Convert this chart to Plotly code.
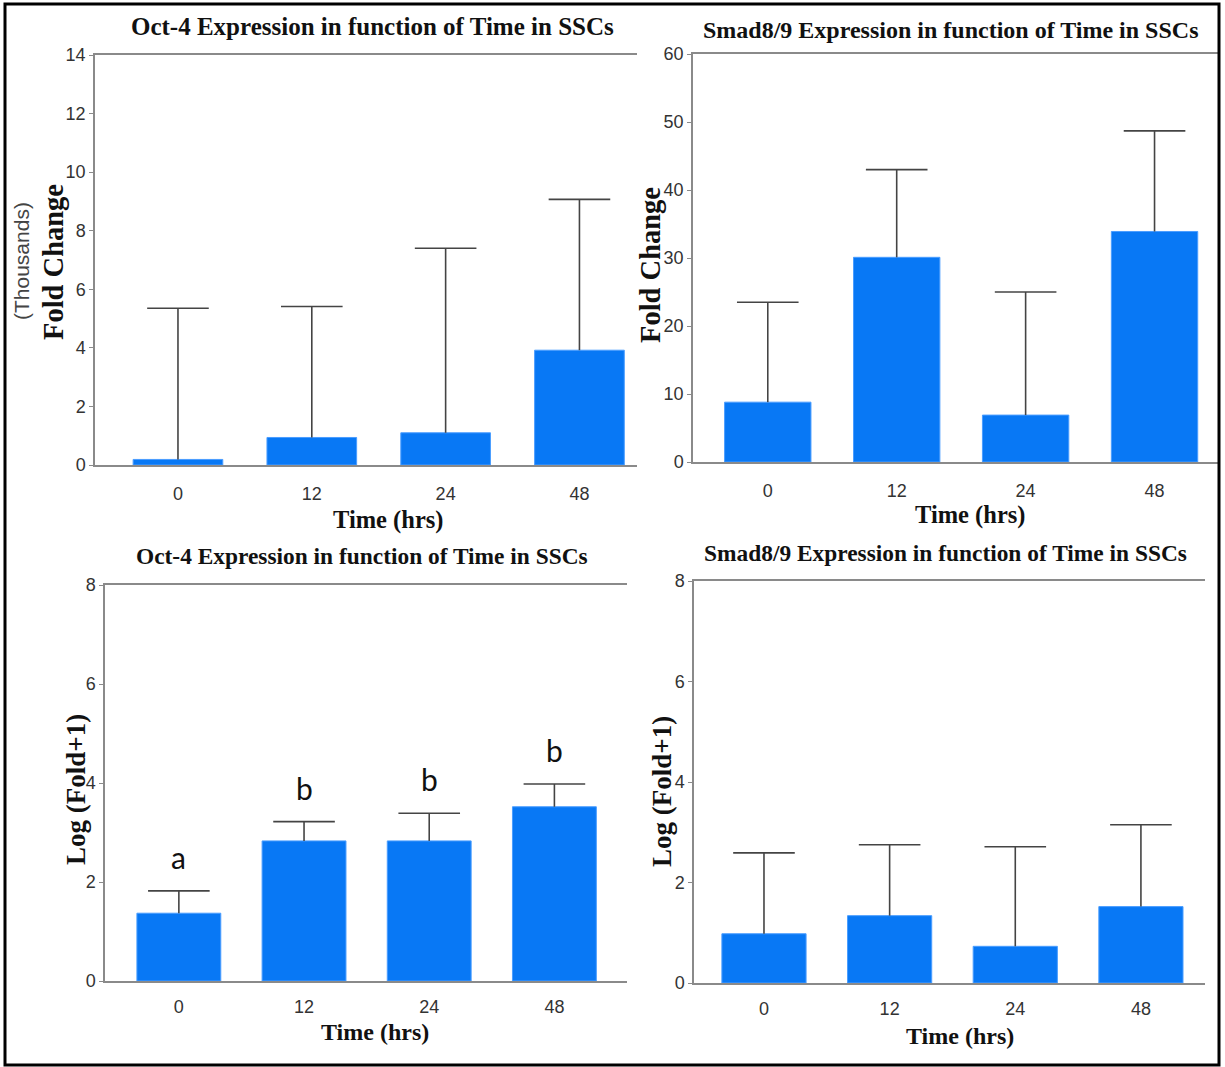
import plotly.graph_objects as go

# Time points (hours)
times = ["0", "12", "24", "48"]

# Oct-4 fold change (thousands) with upper SD
oct4_fold = [0.19, 0.94, 1.10, 3.92]
oct4_fold_err = [5.16, 4.47, 6.30, 5.15]

# Smad8/9 fold change with upper SD
smad_fold = [8.8, 30.1, 6.9, 33.9]
smad_fold_err = [14.7, 12.9, 18.1, 14.8]

# Oct-4 log(fold+1) with upper SD and significance letters
oct4_log = [1.37, 2.83, 2.83, 3.52]
oct4_log_err = [0.45, 0.39, 0.56, 0.46]
oct4_letters = ["a", "b", "b", "b"]

# Smad8/9 log(fold+1) with upper SD
smad_log = [0.98, 1.34, 0.73, 1.52]
smad_log_err = [1.61, 1.41, 1.98, 1.63]

W, H = 1225, 1067
BAR = "#0878F5"
ERR = "#444444"


def serif(size):
    return dict(family="Liberation Serif", size=size, color="#111111")


TICK_FONT = dict(family="Liberation Sans", size=18, color="#333333")


def px(x):
    return x / W


def py(y):
    return 1 - y / H


panels = [
    # values, errors, x-pixel span, y-pixel span, x range, y range, dtick
    dict(v=oct4_fold, e=oct4_fold_err, xs=(95, 637), ys=(55, 465),
         xr=[-0.62, 3.43], yr=[0, 14], dt=2, so=12),
    dict(v=smad_fold, e=smad_fold_err, xs=(693, 1219), ys=(54, 462),
         xr=[-0.58, 3.50], yr=[0, 60], dt=10, so=12),
    dict(v=oct4_log, e=oct4_log_err, xs=(105, 627), ys=(585, 981),
         xr=[-0.59, 3.58], yr=[0, 8], dt=2, so=9),
    dict(v=smad_log, e=smad_log_err, xs=(694, 1205), ys=(581, 983),
         xr=[-0.557, 3.51], yr=[0, 8], dt=2, so=9),
]

fig = go.Figure()
layout = {}
for i, p in enumerate(panels, start=1):
    xa = "x" if i == 1 else f"x{i}"
    ya = "y" if i == 1 else f"y{i}"
    fig.add_trace(go.Bar(
        x=times, y=p["v"], xaxis=xa, yaxis=ya, width=0.67,
        marker=dict(color=BAR, line=dict(color="#4a9dff", width=1)),
        showlegend=False, hoverinfo="y",
    ))
    # upper SD whisker: cap marker at mean+SD, stem drawn down to the bar top
    tops = [v + e for v, e in zip(p["v"], p["e"])]
    fig.add_trace(go.Scatter(
        x=times, y=tops, xaxis=xa, yaxis=ya, mode="markers",
        marker=dict(symbol="line-ew", size=44, color=ERR,
                    line=dict(color=ERR, width=1.6)),
        error_y=dict(type="data", symmetric=False, array=[0] * 4,
                     arrayminus=p["e"], color=ERR, thickness=1.6, width=0),
        showlegend=False, hoverinfo="skip",
    ))
    key = "" if i == 1 else str(i)
    layout[f"xaxis{key}"] = dict(
        domain=[px(p["xs"][0]), px(p["xs"][1])], anchor=ya, type="category",
        range=p["xr"], showline=True, linecolor="#8a8a8a", linewidth=1.5,
        mirror=True, ticks="", showgrid=False, zeroline=False,
        tickfont=TICK_FONT, ticklabelstandoff=p["so"], fixedrange=True,
        automargin=False,
    )
    layout[f"yaxis{key}"] = dict(
        domain=[py(p["ys"][1]), py(p["ys"][0])], anchor=xa,
        range=p["yr"], dtick=p["dt"], showline=True, linecolor="#8a8a8a",
        linewidth=1.5, ticks="outside", ticklen=4, tickcolor="#8a8a8a",
        showgrid=False, zeroline=False, tickfont=TICK_FONT, fixedrange=True,
        automargin=False,
    )

annotations = []


def note(text, x, y, font, angle=0):
    annotations.append(dict(text=text, x=px(x), y=py(y), xref="paper",
                            yref="paper", showarrow=False, font=font,
                            textangle=angle, xanchor="center",
                            yanchor="middle"))


title = "<b>Oct-4 Expression in function of Time in SSCs</b>"
title2 = "<b>Smad8/9 Expression in function of Time in SSCs</b>"
note(title, 372, 27, serif(25))
note(title2, 950, 30, serif(24))
note(title, 362, 556, serif(23.4))
note(title2, 945, 553, serif(23.4))

xt = "<b>Time (hrs)</b>"
note(xt, 388, 520, serif(24.5))
note(xt, 970, 515, serif(24.5))
note(xt, 375, 1032, serif(24))
note(xt, 960, 1036, serif(24))

note("<b>Fold Change</b>", 53, 262, serif(28.5), -90)
note("(Thousands)", 22, 261,
     dict(family="Liberation Sans", size=21, color="#444444"), -90)
note("<b>Fold Change</b>", 650, 265, serif(28.5), -90)
note("<b>Log (Fold+1)</b>", 76, 790, serif(27), -90)
note("<b>Log (Fold+1)</b>", 662, 792, serif(27), -90)

# significance letters above the Oct-4 log bars (category index positions)
for k, (v, e, lab) in enumerate(zip(oct4_log, oct4_log_err, oct4_letters)):
    annotations.append(dict(text=lab, x=k, y=v + e + 0.28, xref="x3",
                            yref="y3", showarrow=False, yanchor="bottom",
                            font=dict(family="Lato", size=30,
                                      color="#111111")))

fig.update_layout(
    width=W, height=H, autosize=False,
    margin=dict(l=0, r=0, t=0, b=0, pad=0, autoexpand=False),
    paper_bgcolor="white", plot_bgcolor="white",
    annotations=annotations,
    shapes=[dict(type="rect", xref="paper", yref="paper",
                 x0=px(5), x1=px(1219), y0=py(1065), y1=py(4),
                 line=dict(color="black", width=3))],
    **layout,
)

fig.write_html("out.html", config={"displayModeBar": False})
